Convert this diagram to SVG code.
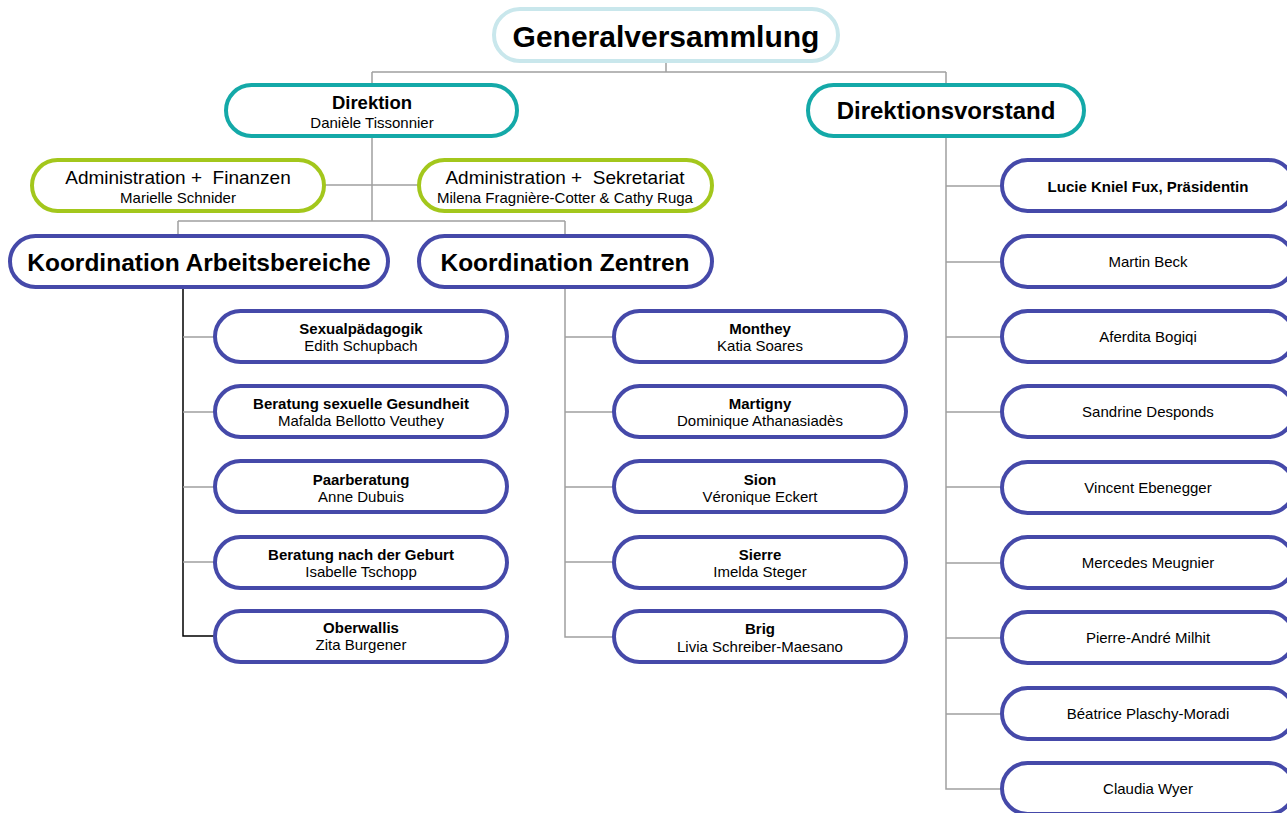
<svg xmlns="http://www.w3.org/2000/svg" width="1287" height="813" viewBox="0 0 1287 813">
<style>
.bx{fill:#fff;stroke-width:4}
.gv{stroke:#c9e7ec}
.tl{stroke:#14a9a8}
.gr{stroke:#a3c71c}
.bl{stroke:#4549a9}
.ln{fill:none;stroke:#a0a0a0;stroke-width:1.5}
.lk{fill:none;stroke:#000;stroke-width:1.5}
text{font-family:"Liberation Sans",Arial,sans-serif;fill:#000;text-anchor:middle;white-space:pre}
.b{font-weight:bold}
.s{font-size:15px}
</style>
<rect width="1287" height="813" fill="#fff"/>
<g id="connectors">
<path class="ln" d="M666 61V72M372 72H946M372 72V85M946 72V85"/>
<path class="ln" d="M372 136V221M325 185H419M178 221H565M178 221V236M565 221V236"/>
<path class="lk" d="M183 287V636H215"/>
<path class="ln" d="M183 337H215M183 412H215M183 487H215M183 562H215"/>
<path class="ln" d="M565 287V637H614M565 337H614M565 412H614M565 487H614M565 562H614"/>
<path class="ln" d="M946 136V789H1002M946 186H1002M946 262H1002M946 337H1002M946 412H1002M946 487H1002M946 563H1002M946 638H1002M946 714H1002"/>
</g>
<g id="gv"><rect class="bx gv" x="494" y="9" width="344" height="52" rx="26"/><text x="666" y="47" class="b" font-size="30">Generalversammlung</text></g>
<g id="direktion"><rect class="bx tl" x="226" y="85" width="291" height="51" rx="25.5"/><text x="372" y="109" class="b" font-size="18.5">Direktion</text><text x="372" y="128" class="s">Danièle Tissonnier</text></g>
<g id="vorstand"><rect class="bx tl" x="808" y="85" width="276" height="51" rx="25.5"/><text x="946" y="119" class="b" font-size="24">Direktionsvorstand</text></g>
<g id="admin-fin"><rect class="bx gr" x="32" y="160" width="292" height="51" rx="25.5"/><text x="178" y="184" font-size="19">Administration +  Finanzen</text><text x="178" y="203" class="s">Marielle Schnider</text></g>
<g id="admin-sek"><rect class="bx gr" x="419" y="160" width="293" height="51" rx="25.5"/><text x="565" y="184" font-size="19">Administration +  Sekretariat</text><text x="565" y="203" class="s">Milena Fragnière-Cotter &amp; Cathy Ruga</text></g>
<g id="koord-ab"><rect class="bx bl" x="10" y="236" width="378" height="51" rx="25.5"/><text x="199" y="271" class="b" font-size="24.5">Koordination Arbeitsbereiche</text></g>
<g id="koord-z"><rect class="bx bl" x="419" y="236" width="293" height="51" rx="25.5"/><text x="565" y="271" class="b" font-size="24.5">Koordination Zentren</text></g>
<g id="sexual"><rect class="bx bl" x="215" y="311" width="292" height="51" rx="25.5"/><text x="361" y="334" class="b s">Sexualpädagogik</text><text x="361" y="351" class="s">Edith Schupbach</text></g>
<g id="beratung"><rect class="bx bl" x="215" y="386" width="292" height="51" rx="25.5"/><text x="361" y="409" class="b s">Beratung sexuelle Gesundheit</text><text x="361" y="426" class="s">Mafalda Bellotto Veuthey</text></g>
<g id="paar"><rect class="bx bl" x="215" y="461" width="292" height="51" rx="25.5"/><text x="361" y="485" class="b s">Paarberatung</text><text x="361" y="502" class="s">Anne Dubuis</text></g>
<g id="geburt"><rect class="bx bl" x="215" y="537" width="292" height="51" rx="25.5"/><text x="361" y="560" class="b s">Beratung nach der Geburt</text><text x="361" y="577" class="s">Isabelle Tschopp</text></g>
<g id="oberwallis"><rect class="bx bl" x="215" y="611" width="292" height="51" rx="25.5"/><text x="361" y="633" class="b s">Oberwallis</text><text x="361" y="650" class="s">Zita Burgener</text></g>
<g id="monthey"><rect class="bx bl" x="614" y="311" width="292" height="51" rx="25.5"/><text x="760" y="334" class="b s">Monthey</text><text x="760" y="351" class="s">Katia Soares</text></g>
<g id="martigny"><rect class="bx bl" x="614" y="386" width="292" height="51" rx="25.5"/><text x="760" y="409" class="b s">Martigny</text><text x="760" y="426" class="s">Dominique Athanasiadès</text></g>
<g id="sion"><rect class="bx bl" x="614" y="461" width="292" height="51" rx="25.5"/><text x="760" y="485" class="b s">Sion</text><text x="760" y="502" class="s">Véronique Eckert</text></g>
<g id="sierre"><rect class="bx bl" x="614" y="537" width="292" height="51" rx="25.5"/><text x="760" y="560" class="b s">Sierre</text><text x="760" y="577" class="s">Imelda Steger</text></g>
<g id="brig"><rect class="bx bl" x="614" y="611" width="292" height="51" rx="25.5"/><text x="760" y="634" class="b s">Brig</text><text x="760" y="652" class="s">Livia Schreiber-Maesano</text></g>
<g id="lucie"><rect class="bx bl" x="1002" y="160" width="292" height="51" rx="25.5"/><text x="1148" y="192" class="b s">Lucie Kniel Fux, Präsidentin</text></g>
<g id="beck"><rect class="bx bl" x="1002" y="236" width="292" height="51" rx="25.5"/><text x="1148" y="267" class="s">Martin Beck</text></g>
<g id="bogiqi"><rect class="bx bl" x="1002" y="311" width="292" height="51" rx="25.5"/><text x="1148" y="342" class="s">Aferdita Bogiqi</text></g>
<g id="desponds"><rect class="bx bl" x="1002" y="386" width="292" height="51" rx="25.5"/><text x="1148" y="417" class="s">Sandrine Desponds</text></g>
<g id="ebenegger"><rect class="bx bl" x="1002" y="462" width="292" height="51" rx="25.5"/><text x="1148" y="493" class="s">Vincent Ebenegger</text></g>
<g id="meugnier"><rect class="bx bl" x="1002" y="537" width="292" height="51" rx="25.5"/><text x="1148" y="568" class="s">Mercedes Meugnier</text></g>
<g id="milhit"><rect class="bx bl" x="1002" y="612" width="292" height="51" rx="25.5"/><text x="1148" y="643" class="s">Pierre-André Milhit</text></g>
<g id="plaschy"><rect class="bx bl" x="1002" y="688" width="292" height="51" rx="25.5"/><text x="1148" y="719" class="s">Béatrice Plaschy-Moradi</text></g>
<g id="wyer"><rect class="bx bl" x="1002" y="763" width="292" height="51" rx="25.5"/><text x="1148" y="794" class="s">Claudia Wyer</text></g>
</svg>
